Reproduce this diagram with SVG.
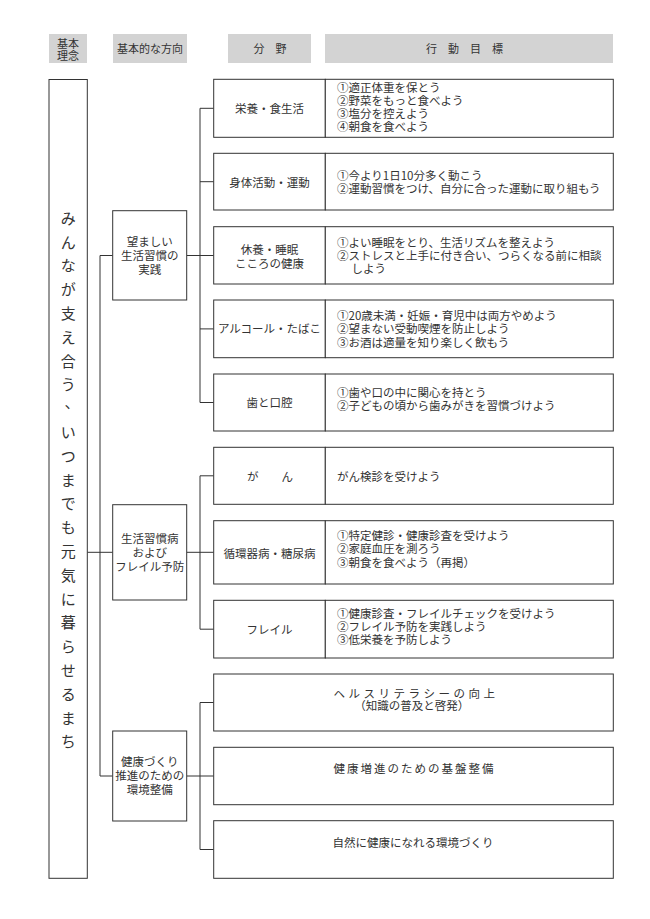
<svg xmlns="http://www.w3.org/2000/svg" width="650" height="919" viewBox="0 0 650 919">
<style>
  text { font-family: "Noto Sans CJK JP", "Noto Sans CJK SC", sans-serif; fill: #333; font-size: 11.5px; }
  .hdr { fill: #d3d3d3; stroke: none; }
  .box { fill: #fff; stroke: #333; stroke-width: 1; }
  .ln { fill: none; stroke: #333; stroke-width: 1; }
  .c { text-anchor: middle; }
  .big { font-size: 15px; text-anchor: middle; }
  .hd { font-size: 11px; }
</style>
<rect width="650" height="919" fill="#fff"/>

<g id="header">
  <rect class="hdr" x="49" y="34" width="38" height="29"/>
  <text class="c hd" x="68" y="47.5">基本</text>
  <text class="c hd" x="68" y="60.3">理念</text>
  <rect class="hdr" x="113" y="34" width="74" height="29"/>
  <text class="c hd" x="150" y="53.3">基本的な方向</text>
  <rect class="hdr" x="228" y="34" width="83" height="29"/>
  <text class="c hd" x="270" y="53.3">分　野</text>
  <rect class="hdr" x="325" y="34" width="288" height="29"/>
  <text class="c hd" x="470" y="53.3" letter-spacing="11">行動目標</text>
</g>

<g id="connectors">
  <path class="ln" d="M100,255.5 V776 M100,255.5 H112.7 M100,776 H112.7 M87.3,552.3 H112.7"/>
  <path class="ln" d="M186.7,255.5 H200 M200,108.3 V402.5 M200,108.3 H213.7 M200,181.7 H213.7 M200,255.5 H213.7 M200,328.9 H213.7 M200,402.5 H213.7"/>
  <path class="ln" d="M186.7,552.3 H213.7 M200,475.8 V629.2 M200,475.8 H213.7 M200,629.2 H213.7"/>
  <path class="ln" d="M186.7,776 H213.7 M200,702.5 V849.5 M200,702.5 H213.7 M200,849.5 H213.7"/>
</g>

<g id="principle">
  <rect class="box" x="49" y="79.5" width="38.3" height="798.8"/>
  <text class="big">
    <tspan x="68.2" y="223.8">み</tspan><tspan x="68.2" y="247.6">ん</tspan><tspan x="68.2" y="271.4">な</tspan><tspan x="68.2" y="295.2">が</tspan><tspan x="68.2" y="319">支</tspan><tspan x="68.2" y="342.8">え</tspan><tspan x="68.2" y="366.6">合</tspan><tspan x="68.2" y="390.4">う</tspan><tspan x="72" y="408">、</tspan><tspan x="68.2" y="438">い</tspan><tspan x="68.2" y="461.8">つ</tspan><tspan x="68.2" y="485.6">ま</tspan><tspan x="68.2" y="509.4">で</tspan><tspan x="68.2" y="533.2">も</tspan><tspan x="68.2" y="557">元</tspan><tspan x="68.2" y="580.8">気</tspan><tspan x="68.2" y="604.6">に</tspan><tspan x="68.2" y="628.4">暮</tspan><tspan x="68.2" y="652.2">ら</tspan><tspan x="68.2" y="676">せ</tspan><tspan x="68.2" y="699.8">る</tspan><tspan x="68.2" y="723.6">ま</tspan><tspan x="68.2" y="747.4">ち</tspan>
  </text>
</g>

<g id="dir1">
  <rect class="box" x="112.7" y="210.7" width="74" height="89.3"/>
  <text class="c" x="149.7" y="245.9">望ましい</text>
  <text class="c" x="149.7" y="260.2">生活習慣の</text>
  <text class="c" x="149.7" y="274.2">実践</text>
</g>
<g id="dir2">
  <rect class="box" x="112.7" y="504.7" width="74" height="95.3"/>
  <text class="c" x="149.7" y="542.5">生活習慣病</text>
  <text class="c" x="149.7" y="557.3">および</text>
  <text class="c" x="149.7" y="570.9">フレイル予防</text>
</g>
<g id="dir3">
  <rect class="box" x="112.7" y="731" width="74" height="90"/>
  <text class="c" x="149.7" y="765.9">健康づくり</text>
  <text class="c" x="149.7" y="780.2">推進のための</text>
  <text class="c" x="149.7" y="794.2">環境整備</text>
</g>

<g id="row1">
  <rect class="box" x="213.7" y="79.3" width="111.6" height="58"/>
  <rect class="box" x="325.3" y="79.3" width="288" height="58"/>
  <text class="c" x="269.5" y="113.2">栄養・食生活</text>
  <text x="337" y="91.5">①適正体重を保とう</text>
  <text x="337" y="104.8">②野菜をもっと食べよう</text>
  <text x="337" y="118.1">③塩分を控えよう</text>
  <text x="337" y="131.4">④朝食を食べよう</text>
</g>
<g id="row2">
  <rect class="box" x="213.7" y="153.3" width="111.6" height="56.7"/>
  <rect class="box" x="325.3" y="153.3" width="288" height="56.7"/>
  <text class="c" x="269.5" y="186.9">身体活動・運動</text>
  <text x="337" y="179.9">①今より1日10分多く動こう</text>
  <text x="337" y="192.5">②運動習慣をつけ、自分に合った運動に取り組もう</text>
</g>
<g id="row3">
  <rect class="box" x="213.7" y="226.7" width="111.6" height="57.3"/>
  <rect class="box" x="325.3" y="226.7" width="288" height="57.3"/>
  <text class="c" x="269.5" y="254.2">休養・睡眠</text>
  <text class="c" x="269.5" y="267.5">こころの健康</text>
  <text x="337" y="246.9">①よい睡眠をとり、生活リズムを整えよう</text>
  <text x="337" y="259.9">②ストレスと上手に付き合い、つらくなる前に相談</text>
  <text x="351.5" y="272.5">しよう</text>
</g>
<g id="row4">
  <rect class="box" x="213.7" y="300" width="111.6" height="57.7"/>
  <rect class="box" x="325.3" y="300" width="288" height="57.7"/>
  <text class="c" x="269.5" y="333.4">アルコール・たばこ</text>
  <text x="337" y="320.2">①20歳未満・妊娠・育児中は両方やめよう</text>
  <text x="337" y="333.2">②望まない受動喫煙を防止しよう</text>
  <text x="337" y="346.5">③お酒は適量を知り楽しく飲もう</text>
</g>
<g id="row5">
  <rect class="box" x="213.7" y="374" width="111.6" height="57"/>
  <rect class="box" x="325.3" y="374" width="288" height="57"/>
  <text class="c" x="269.5" y="406.5">歯と口腔</text>
  <text x="337" y="396.9">①歯や口の中に関心を持とう</text>
  <text x="337" y="409.9">②子どもの頃から歯みがきを習慣づけよう</text>
</g>
<g id="row6">
  <rect class="box" x="213.7" y="447.3" width="111.6" height="57"/>
  <rect class="box" x="325.3" y="447.3" width="288" height="57"/>
  <text class="c" x="270" y="480.9">が　　ん</text>
  <text x="337" y="480.9">がん検診を受けよう</text>
</g>
<g id="row7">
  <rect class="box" x="213.7" y="520.7" width="111.6" height="63.3"/>
  <rect class="box" x="325.3" y="520.7" width="288" height="63.3"/>
  <text class="c" x="269.5" y="557.5">循環器病・糖尿病</text>
  <text x="337" y="540.2">①特定健診・健康診査を受けよう</text>
  <text x="337" y="553.2">②家庭血圧を測ろう</text>
  <text x="337" y="566.5">③朝食を食べよう（再掲）</text>
</g>
<g id="row8">
  <rect class="box" x="213.7" y="600.3" width="111.6" height="57.7"/>
  <rect class="box" x="325.3" y="600.3" width="288" height="57.7"/>
  <text class="c" x="269.5" y="633.5">フレイル</text>
  <text x="337" y="617.5">①健康診査・フレイルチェックを受けよう</text>
  <text x="337" y="630.9">②フレイル予防を実践しよう</text>
  <text x="337" y="644.2">③低栄養を予防しよう</text>
</g>
<g id="row9">
  <rect class="box" x="213.7" y="674" width="399.6" height="57"/>
  <text class="c" x="416" y="697.5" letter-spacing="3.5">ヘルスリテラシーの向上</text>
  <text class="c" x="411.7" y="710.2">（知識の普及と啓発）</text>
</g>
<g id="row10">
  <rect class="box" x="213.7" y="747.3" width="399.6" height="57.4"/>
  <text class="c" x="414.5" y="773.2" letter-spacing="2">健康増進のための基盤整備</text>
</g>
<g id="row11">
  <rect class="box" x="213.7" y="820.7" width="399.6" height="57.6"/>
  <text class="c" x="413" y="846.5">自然に健康になれる環境づくり</text>
</g>
</svg>
